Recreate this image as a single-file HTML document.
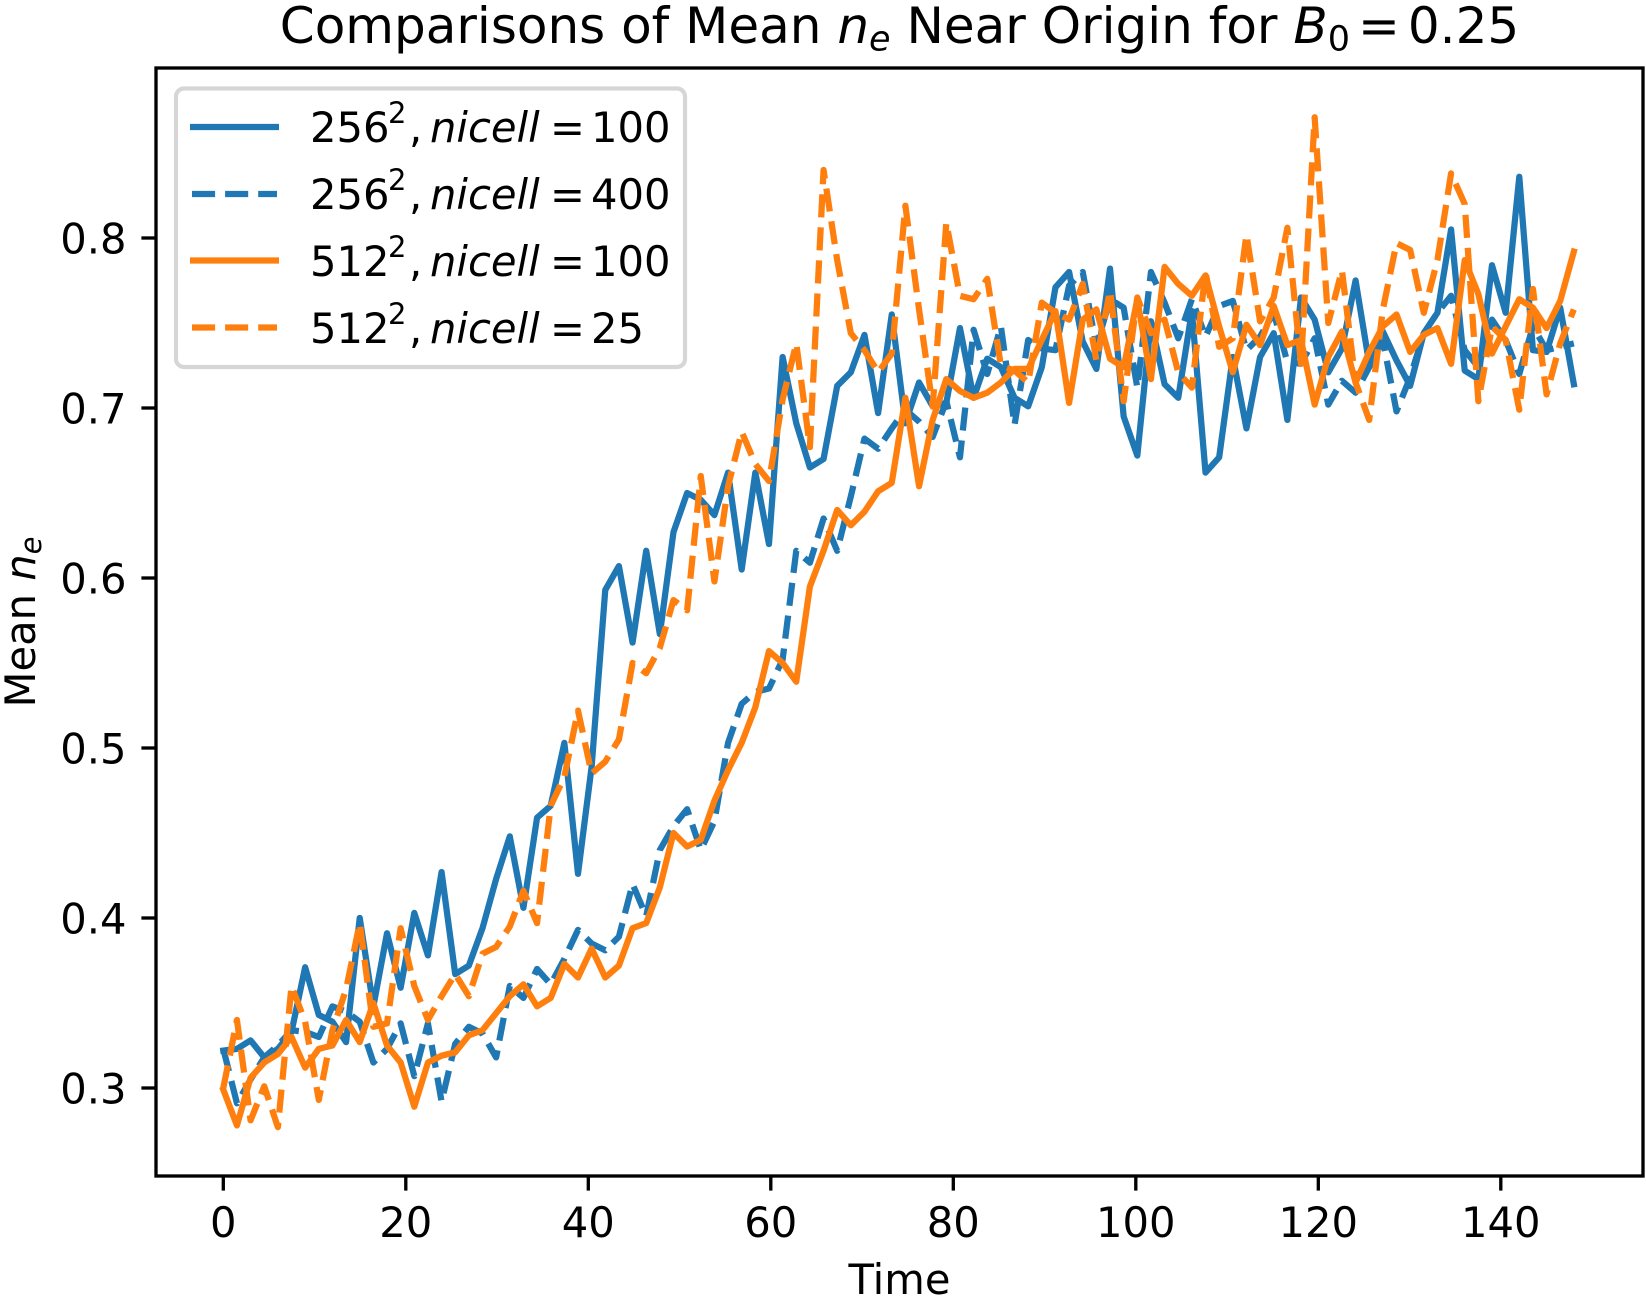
<!DOCTYPE html>
<html>
<head>
<meta charset="utf-8">
<title>Comparisons of Mean ne Near Origin</title>
<style>
html,body{margin:0;padding:0;background:#fff;}
svg{display:block;}
text{font-family:"DejaVu Sans","Liberation Sans",sans-serif;fill:#000;}
</style>
</head>
<body>
<svg id="chart" xmlns="http://www.w3.org/2000/svg" width="1646" height="1305" viewBox="0 0 1646 1305">
<rect x="0" y="0" width="1646" height="1305" fill="#fff"/>
<g id="series-layer"></g>
<rect x="156" y="68" width="1487" height="1108" fill="none" stroke="#000" stroke-width="3.33"/>
<g id="tick-layer"></g>
<text x="899.5" y="43" text-anchor="middle" font-size="50" xml:space="preserve">Comparisons of Mean <tspan font-style="italic">n</tspan><tspan font-style="italic" font-size="35" dy="7.5">e</tspan><tspan dy="-7.5"> Near Origin for </tspan><tspan font-style="italic">B</tspan><tspan font-size="35" dy="7.5">0</tspan><tspan dy="-7.5" dx="8">=</tspan><tspan dx="8">0.25</tspan></text>
<text x="899.5" y="1294" text-anchor="middle" font-size="41.67">Time</text>
<text transform="translate(35,622) rotate(-90)" text-anchor="middle" font-size="41.67">Mean <tspan font-style="italic">n</tspan><tspan font-style="italic" font-size="29" dy="6">e</tspan></text>
<g>
<rect x="176" y="88.5" width="509" height="278.5" rx="8" ry="8" fill="#fff" fill-opacity="0.8" stroke="#d6d6d6" stroke-width="4.17"/>
<g>
<line x1="190" y1="127" x2="279" y2="127" stroke="#1f77b4" stroke-width="6.25"/>
<text y="142" font-size="41.67"><tspan x="310">256</tspan><tspan x="388" y="123" font-size="29">2</tspan><tspan x="409" y="142">,</tspan><tspan x="430" font-style="italic">nicell</tspan><tspan x="550">=</tspan><tspan x="591">100</tspan></text>
</g>
<g>
<line x1="192" y1="194" x2="277" y2="194" stroke="#1f77b4" stroke-width="6.25" stroke-dasharray="23.1 10"/>
<text y="209" font-size="41.67"><tspan x="310">256</tspan><tspan x="388" y="190" font-size="29">2</tspan><tspan x="409" y="209">,</tspan><tspan x="430" font-style="italic">nicell</tspan><tspan x="550">=</tspan><tspan x="591">400</tspan></text>
</g>
<g>
<line x1="190" y1="260.5" x2="279" y2="260.5" stroke="#ff7f0e" stroke-width="6.25"/>
<text y="276" font-size="41.67"><tspan x="310">512</tspan><tspan x="388" y="257" font-size="29">2</tspan><tspan x="409" y="276">,</tspan><tspan x="430" font-style="italic">nicell</tspan><tspan x="550">=</tspan><tspan x="591">100</tspan></text>
</g>
<g>
<line x1="192" y1="327.5" x2="277" y2="327.5" stroke="#ff7f0e" stroke-width="6.25" stroke-dasharray="23.1 10"/>
<text y="343" font-size="41.67"><tspan x="310">512</tspan><tspan x="388" y="324" font-size="29">2</tspan><tspan x="409" y="343">,</tspan><tspan x="430" font-style="italic">nicell</tspan><tspan x="550">=</tspan><tspan x="591">25</tspan></text>
</g>
</g>
</svg>
<script>
const times = [0,1.495,2.99,4.485,5.98,7.475,8.97,10.465,11.96,13.455,
14.95,16.445,17.94,19.435,20.93,22.425,23.92,25.415,26.91,28.405,
29.9,31.395,32.89,34.385,35.88,37.375,38.87,40.365,41.86,43.355,
44.85,46.345,47.84,49.335,50.83,52.325,53.82,55.315,56.81,58.305,
59.8,61.295,62.79,64.285,65.78,67.275,68.77,70.265,71.76,73.255,
74.75,76.245,77.74,79.235,80.73,82.225,83.72,85.215,86.71,88.205,
89.7,91.195,92.69,94.185,95.68,97.175,98.67,100.165,101.66,103.155,
104.65,106.145,107.64,109.135,110.63,112.125,113.62,115.115,116.61,118.105,
119.6,121.095,122.59,124.085,125.58,127.075,128.57,130.065,131.56,133.055,
134.55,136.045,137.54,139.035,140.53,142.025,143.52,145.015,146.51,148.005];
const seriesBlueSolid = [
.322,.323,.328,.318,.323,.333,.371,.343,.339,.327,
.400,.348,.391,.359,.403,.378,.427,.367,.372,.394,
.423,.448,.406,.459,.466,.503,.426,.489,.593,.607,
.562,.616,.567,.627,.650,.646,.637,.662,.605,.662,
.620,.730,.691,.665,.670,.713,.721,.743,.697,.755,
.691,.715,.701,.703,.747,.706,.729,.724,.706,.701,
.724,.771,.780,.739,.723,.782,.695,.672,.751,.714,
.706,.757,.662,.671,.730,.688,.730,.744,.693,.765,
.752,.721,.735,.775,.726,.745,.728,.713,.744,.756,
.805,.722,.717,.784,.756,.836,.734,.733,.759,.714];
const seriesBlueDashed = [
.323,.291,.305,.318,.325,.334,.333,.330,.348,.345,
.339,.315,.323,.338,.307,.338,.292,.326,.336,.332,
.318,.360,.353,.370,.361,.376,.393,.385,.381,.389,
.420,.401,.440,.454,.464,.440,.457,.503,.526,.533,
.535,.552,.616,.609,.635,.616,.648,.682,.676,.688,
.699,.692,.683,.704,.671,.746,.720,.748,.690,.740,
.735,.734,.772,.780,.736,.764,.759,.712,.780,.762,
.741,.764,.742,.760,.763,.734,.742,.756,.727,.726,
.741,.702,.716,.709,.724,.740,.698,.718,.744,.756,
.766,.734,.724,.752,.740,.720,.748,.734,.736,.738];
const seriesOrangeSolid = [
.299,.278,.306,.315,.320,.330,.312,.323,.325,.340,
.327,.350,.325,.315,.289,.315,.319,.321,.331,.334,
.344,.354,.361,.348,.353,.373,.365,.382,.365,.372,
.394,.397,.418,.450,.442,.446,.469,.487,.503,.524,
.557,.550,.539,.595,.616,.640,.631,.639,.651,.656,
.706,.654,.693,.717,.710,.706,.709,.715,.723,.723,
.740,.757,.703,.752,.758,.729,.724,.764,.717,.783,
.773,.766,.778,.748,.721,.749,.737,.760,.737,.740,
.702,.730,.745,.715,.733,.748,.755,.733,.743,.747,
.726,.787,.767,.732,.748,.764,.759,.747,.763,.792];
const seriesOrangeDashed = [
.300,.340,.281,.301,.277,.360,.339,.293,.334,.358,
.397,.336,.338,.394,.360,.340,.354,.367,.354,.379,
.383,.395,.416,.397,.466,.483,.522,.485,.492,.505,
.550,.544,.559,.587,.581,.660,.598,.654,.686,.667,
.657,.705,.738,.677,.840,.787,.744,.734,.721,.732,
.819,.758,.701,.809,.766,.764,.776,.725,.722,.715,
.762,.756,.752,.773,.728,.769,.704,.765,.744,.752,
.721,.712,.780,.736,.741,.802,.751,.765,.806,.726,
.871,.750,.781,.715,.693,.758,.797,.793,.756,.787,
.838,.820,.704,.748,.740,.699,.770,.708,.738,.758];
const xTickValues = [0,20,40,60,80,100,120,140];
const xTickLabels = ["0","20","40","60","80","100","120","140"];
const yTickValues = [0.3,0.4,0.5,0.6,0.7,0.8];
const yTickLabels = ["0.3","0.4","0.5","0.6","0.7","0.8"];

const SVG_NS = "http://www.w3.org/2000/svg";
function xScale(t){ return 223.3 + 9.125 * t; }
function yScale(v){ return 1088 - 1700 * (v - 0.3); }

const seriesLayer = document.getElementById("series-layer");
const tickLayer = document.getElementById("tick-layer");

function drawSeries(values, color, dashed, name){
  const path = document.createElementNS(SVG_NS, "polyline");
  
  
  const pts = values.map(function(v, i){ return xScale(times[i]).toFixed(2) + "," + yScale(v).toFixed(2); });
  path.setAttribute("points", pts.join(" "));
  path.setAttribute("fill", "none");
  path.setAttribute("stroke", color);
  path.setAttribute("stroke-width", "6.25");
  path.setAttribute("stroke-linejoin", "round");
  if (dashed) {
    path.setAttribute("stroke-dasharray", "23.1 10");
    path.setAttribute("stroke-linecap", "butt");
  } else {
    path.setAttribute("stroke-linecap", "square");
  }
  seriesLayer.appendChild(path);
}
drawSeries(seriesBlueSolid, "#1f77b4", false, "line-256-nicell-100");
drawSeries(seriesBlueDashed, "#1f77b4", true, "line-256-nicell-400");
drawSeries(seriesOrangeSolid, "#ff7f0e", false, "line-512-nicell-100");
drawSeries(seriesOrangeDashed, "#ff7f0e", true, "line-512-nicell-25");

xTickValues.forEach(function(t, i){
  const px = xScale(t);
  const mark = document.createElementNS(SVG_NS, "line");
  
  
  mark.setAttribute("x1", px);
  mark.setAttribute("x2", px);
  mark.setAttribute("y1", 1176);
  mark.setAttribute("y2", 1190.6);
  mark.setAttribute("stroke", "#000");
  mark.setAttribute("stroke-width", "3.33");
  tickLayer.appendChild(mark);
  const label = document.createElementNS(SVG_NS, "text");
  
  
  label.setAttribute("x", px);
  label.setAttribute("y", 1237);
  label.setAttribute("text-anchor", "middle");
  label.setAttribute("font-size", "41.67");
  label.textContent = xTickLabels[i];
  tickLayer.appendChild(label);
});
yTickValues.forEach(function(v, i){
  const py = yScale(v);
  const mark = document.createElementNS(SVG_NS, "line");
  
  
  mark.setAttribute("x1", 141.4);
  mark.setAttribute("x2", 156);
  mark.setAttribute("y1", py);
  mark.setAttribute("y2", py);
  mark.setAttribute("stroke", "#000");
  mark.setAttribute("stroke-width", "3.33");
  tickLayer.appendChild(mark);
  const label = document.createElementNS(SVG_NS, "text");
  
  
  label.setAttribute("x", 126.5);
  label.setAttribute("y", py + 15.5);
  label.setAttribute("text-anchor", "end");
  label.setAttribute("font-size", "41.67");
  label.textContent = yTickLabels[i];
  tickLayer.appendChild(label);
});
</script>
</body>
</html>
